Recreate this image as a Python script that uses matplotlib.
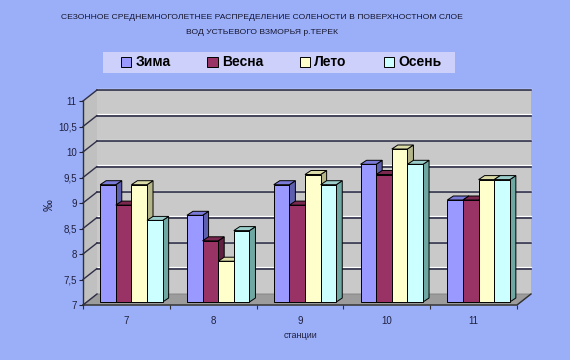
import matplotlib
matplotlib.use("Agg")
import matplotlib.pyplot as plt
from matplotlib.patches import Polygon, Patch, Rectangle
import numpy as np

plt.rcParams['font.family'] = ['Liberation Sans', 'DejaVu Sans']

stations = ['7', '8', '9', '10', '11']
seasons = ['Зима', 'Весна', 'Лето', 'Осень']
zima = [9.3, 8.7, 9.3, 9.7, 9.0]
vesna = [8.9, 8.2, 8.9, 9.5, 9.0]
leto = [9.3, 7.8, 9.5, 10.0, 9.4]
osen = [8.6, 8.4, 9.3, 9.7, 9.4]
yticks = [7, 7.5, 8, 8.5, 9, 9.5, 10, 10.5, 11]
ytick_labels = ['7', '7,5', '8', '8,5', '9', '9,5', '10', '10,5', '11']
title = ('СЕЗОННОЕ СРЕДНЕМНОГОЛЕТНЕЕ РАСПРЕДЕЛЕНИЕ СОЛЕНОСТИ В ПОВЕРХНОСТНОМ СЛОЕ\n'
         'ВОД УСТЬЕВОГО ВЗМОРЬЯ р.ТЕРЕК')

series = [zima, vesna, leto, osen]
front_c = ['#9999FF', '#993366', '#FFFFCC', '#CCFFFF']
side_c = ['#5E5EAE', '#5E1F40', '#B5B58A', '#6FA8A2']
top_c = ['#7A7AD8', '#7A2850', '#DCDCA8', '#9CCFCB']

BG = '#9BAFF8'
W, H = 570, 360
fig = plt.figure(figsize=(W / 100, H / 100), dpi=100, facecolor=BG)

L, R, T, B = 83, 517, 101, 305
ax = fig.add_axes([L / W, 1 - B / H, (R - L) / W, (B - T) / H])
ax.set_xlim(-0.5, 4.5)
ax.set_ylim(7, 11)
ax.patch.set_visible(False)
for s in ax.spines.values():
    s.set_visible(False)

ux = 5 / (R - L)   # data units per pixel
uy = 4 / (B - T)

WX, WY = 14 * ux, 11 * uy     # wall depth
BX, BY = 5 * ux, 3 * uy       # bar front offset
DX, DY = 6 * ux, 4 * uy       # bar depth

x0, x1, y0, y1 = -0.5, 4.5, 7, 11
kw = dict(clip_on=False)
# back wall
ax.add_patch(Polygon([(x0 + WX, y0 + WY), (x1 + WX, y0 + WY), (x1 + WX, y1 + WY), (x0 + WX, y1 + WY)],
                     closed=True, facecolor='#C9C9C9', edgecolor='none', zorder=0, **kw))
# left wall
ax.add_patch(Polygon([(x0, y0), (x0, y1), (x0 + WX, y1 + WY), (x0 + WX, y0 + WY)],
                     closed=True, facecolor='#C0C0C0', edgecolor='none', zorder=0.5, **kw))
# floor
ax.add_patch(Polygon([(x0, y0), (x1, y0), (x1 + WX, y0 + WY), (x0 + WX, y0 + WY)],
                     closed=True, facecolor='#9C9C9C', edgecolor='#808080', lw=0.6, zorder=0.6, **kw))

# gridlines
for v in yticks[1:]:
    ax.plot([x0 + WX, x1 + WX], [v + WY + 1.5 * uy] * 2, color='white', lw=0.9, zorder=0.7, **kw)
    ax.plot([x0 + WX, x1 + WX], [v + WY] * 2, color='#2E2E48', lw=1.2, zorder=0.8, **kw)
for v in yticks:
    ax.plot([x0, x0 + WX], [v, v + WY], color='#2E2E48', lw=1.0, zorder=0.8, **kw)

# bars
bw = 0.18
z = 2
for i in range(len(stations)):
    for j, vals in enumerate(series):
        v = vals[i]
        xl = i - 2 * bw + j * bw + BX
        xr = xl + bw
        b = y0 + BY
        t = v + BY
        ax.add_patch(Polygon([(xr, b), (xr + DX, b + DY), (xr + DX, t + DY), (xr, t)],
                             closed=True, facecolor=side_c[j], edgecolor='black', lw=0.7, zorder=z, **kw))
        ax.add_patch(Polygon([(xl, t), (xr, t), (xr + DX, t + DY), (xl + DX, t + DY)],
                             closed=True, facecolor=top_c[j], edgecolor='black', lw=0.7, zorder=z, **kw))
        ax.bar(xl, v - y0, width=bw, bottom=b, align='edge', color=front_c[j],
               edgecolor='black', lw=0.7, zorder=z + 0.5, clip_on=False)
        z += 1

# front edges
ax.plot([x0, x1, x1 + WX], [y0, y0, y0 + WY], color='#303030', lw=1.0, zorder=50, **kw)
ax.plot([x0, x0], [y0, y1], color='#303030', lw=1.0, zorder=50, **kw)

# ticks
ax.set_yticks(yticks)
ax.set_yticklabels(ytick_labels)
ax.tick_params(axis='y', length=3, width=0.8, pad=1.5, labelsize=7, colors='#202040')
ax.set_xticks(range(len(stations)))
ax.set_xticklabels(stations)
ax.set_xticks(np.arange(-0.5, 5, 1), minor=True)
ax.tick_params(axis='x', which='major', length=0, pad=8, labelsize=7, colors='#202040')
ax.tick_params(axis='x', which='minor', length=3, width=0.8, colors='#303030')

fig.text(300 / W, 1 - 335 / H, 'станции', ha='center', va='center', fontsize=6.5, color='#202040')
fig.text(50 / W, 1 - 205 / H, '‰', ha='center', va='center', rotation=90, fontsize=8.5, color='#202040')

fig.text(262 / W, 1 - 25 / H, title, ha='center', va='center', fontsize=6.1, color='#15152E',
         linespacing=2.6)

# legend box
fig.patches.append(Rectangle((103 / W, 1 - 73 / H), (455 - 103) / W, 21 / H, transform=fig.transFigure,
                             facecolor='#CDD0FA', edgecolor='none', zorder=1))
handles = [Patch(facecolor=c, edgecolor='black', lw=0.7) for c in front_c]
leg = fig.legend(handles, seasons, loc='center', bbox_to_anchor=(281 / W, 1 - 62.5 / H), ncol=4,
                 frameon=False, handlelength=0.75, handleheight=0.75, handletextpad=0.3,
                 columnspacing=2.65, borderpad=0.2, prop={'weight': 'bold', 'size': 10})
leg.set_zorder(5)

fig.savefig('out.png', dpi=100, facecolor=BG)
